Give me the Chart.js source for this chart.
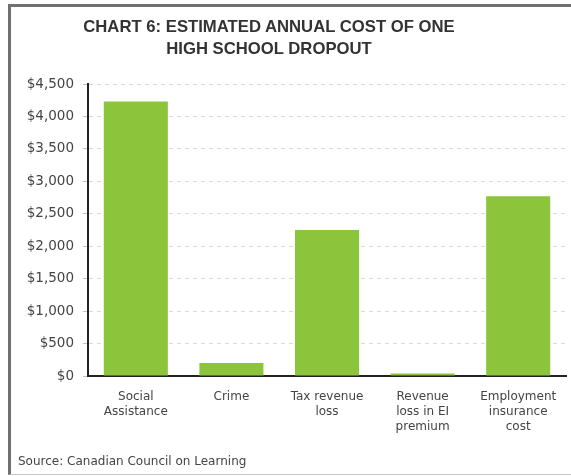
<!DOCTYPE html>
<html>
<head>
<meta charset="utf-8">
<script src="https://cdn.jsdelivr.net/npm/chart.js@4"></script>
<style>
  html, body { margin:0; padding:0; background:#fff; }
  body { width:571px; height:476px; position:relative; overflow:hidden; font-family:"DejaVu Sans", sans-serif; }
  #frame { position:absolute; left:8px; top:4px; width:620px; height:467px; border-left:3px solid #707070; border-top:3px solid #707070; border-bottom:1px solid #c8c8c8; }
  #title { position:absolute; left:0; width:538px; top:16px; text-align:center; font-family:"Liberation Sans", Arial, sans-serif; font-weight:bold; font-size:16.7px; line-height:22px; color:#333; }
  #source { position:absolute; left:18px; top:454px; font-size:12px; color:#444; }
  #wrap { position:absolute; left:0; top:0; width:571px; height:476px; }
</style>
</head>
<body>
<div id="frame"></div>
<div id="wrap"><canvas id="c" width="571" height="476"></canvas></div>
<div id="title">CHART 6: ESTIMATED ANNUAL COST OF ONE<br>HIGH SCHOOL DROPOUT</div>
<div id="source">Source: Canadian Council on Learning</div>
<script>
const categories = [
  ["Social", "Assistance"],
  ["Crime"],
  ["Tax revenue", "loss"],
  ["Revenue", "loss in EI", "premium"],
  ["Employment", "insurance", "cost"]
];
const costs = [4230, 200, 2250, 40, 2770];
const yTickValues = [0, 500, 1000, 1500, 2000, 2500, 3000, 3500, 4000, 4500];

new Chart(document.getElementById('c'), {
  type: 'bar',
  data: {
    labels: categories,
    datasets: [{
      data: costs,
      backgroundColor: '#8cc43c',
      borderWidth: 0,
      categoryPercentage: 1,
      barPercentage: 0.67
    }]
  },
  options: {
    responsive: false,
    animation: false,
    layout: { padding: { left: 10, top: 84, right: 5, bottom: 0 } },
    plugins: { legend: { display: false }, title: { display: false }, tooltip: { enabled: false } },
    scales: {
      x: {
        grid: { display: false, drawTicks: false },
        border: { display: true, color: '#222', width: 2 },
        ticks: { color: '#444', font: { family: 'DejaVu Sans', size: 12, lineHeight: 1.25 }, padding: 13, maxRotation: 0, autoSkip: false },
        afterFit(s) { s.height = 100; }
      },
      y: {
        min: 0, max: 4500,
        afterBuildTicks(s) { s.ticks = yTickValues.map(v => ({ value: v })); },
        grid: { color: 'rgba(0,0,0,0.15)', drawOnChartArea: true, tickLength: 5, tickColor: 'rgba(0,0,0,0.25)', tickBorderDash: [] },
        border: { display: true, color: '#222', width: 2, dash: [4, 4] },
        ticks: {
          color: '#444', font: { family: 'DejaVu Sans', size: 13.5 }, padding: 9,
          callback: v => '$' + v.toLocaleString('en-US')
        },
        afterFit(s) { s.width = 78; }
      }
    }
  }
});
</script>
</body>
</html>
